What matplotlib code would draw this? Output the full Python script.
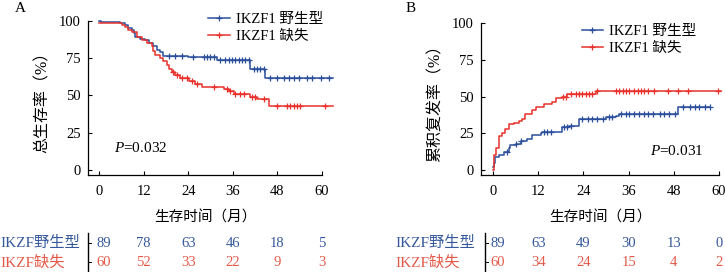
import numpy as np
import matplotlib
matplotlib.use("Agg")
import matplotlib.pyplot as plt


FONT = ['Liberation Serif', 'Noto Sans CJK SC']
plt.rcParams['font.family'] = FONT
plt.rcParams['mathtext.fontset'] = 'custom'
plt.rcParams['mathtext.it'] = 'Liberation Serif:italic'

BLUE = '#2b4f9b'
RED = '#e8312b'
BLUE_TXT = '#35589c'
RED_TXT = '#e35a48'

# ************ #
# *** DATA *** #
# ************ #

groups = ['IKZF1 野生型', 'IKZF1 缺失']
table_groups = ['IKZF野生型', 'IKZF缺失']
xticks = [0, 12, 24, 36, 48, 60]
yticks = [0, 25, 50, 75, 100]

# A: overall survival (step times in months, survival %)
osWtTimes = [0, 0.5, 5.7, 7.0, 7.9, 8.8, 9.3, 9.7, 11.0, 12.4, 13.3, 14.6, 15.5, 16.4, 17.3,
             24.0, 31.7, 40.7, 44.7]
osWtVals = [100, 99.3, 98.8, 97, 95.5, 94, 92, 89.5, 88, 87, 85, 83, 80.5, 79, 76.6,
            75.7, 74, 67.6, 61.8]
osWtEnd = 63
osWtCens = [18.7, 20.5, 22.3, 25.4, 28.1, 29.0, 29.9, 30.8, 32.6, 34.0, 34.9, 35.8, 36.7,
            37.6, 38.5, 39.4, 40.3, 41.6, 42.5, 43.4, 44.3, 46.1, 47.9, 49.7, 51.0, 52.4,
            53.7, 56.0, 57.3, 59.6, 61.8]

osDelTimes = [0, 6.1, 7.0, 7.9, 8.8, 10.2, 11.5, 12.8, 14.2, 14.6, 15.1, 16.4, 17.3, 18.2,
              18.7, 19.6, 20.5, 21.8, 24.1, 25.9, 27.7, 33.5, 34.9, 36.2, 40.7, 42.5, 45.6]
osDelVals = [98.5, 97.5, 96, 94, 92.5, 89, 87, 85, 83, 79.6, 77, 75, 73, 70.3,
             68, 66, 63.6, 62, 60, 58, 56, 54.6, 53, 51.2, 49, 47.9, 42.7]
osDelEnd = 63
osDelCens = [20.0, 20.9, 22.3, 23.6, 25.0, 26.3, 30.8, 34.4, 35.3, 36.6, 38.0, 38.9, 41.1,
             42.0, 44.3, 47.9, 50.6, 51.5, 52.4, 53.3, 54.2, 60.9]

# B: cumulative incidence of relapse (%)
ciWtTimes = [0, 0.2, 0.6, 1.5, 2.8, 4.2, 4.6, 6.0, 7.3, 9.0, 10.4, 12.6, 13.0, 18.2, 20.2,
             22.8, 30.0, 32.6, 33.5, 49.0]
ciWtVals = [2, 5, 8.6, 10, 12, 15, 17, 18, 20, 21, 24, 25, 26, 29.5, 30,
            34.5, 36, 37, 38, 43]
ciWtEnd = 57.5
ciWtCens = [3.7, 6.2, 7.5, 13.5, 14.4, 15.3, 18.8, 19.7, 20.6, 23.7, 25.1, 26.4, 27.7,
            29.1, 30.8, 31.7, 34.0, 35.3, 36.2, 37.5, 38.8, 40.2, 41.1, 42.4, 44.2, 45.5,
            46.8, 48.2, 50.4, 52.2, 53.5, 54.8, 56.2, 57.5]

ciDelTimes = [0, 0.2, 0.9, 1.5, 2.4, 3.3, 4.2, 5.5, 6.8, 7.7, 8.6, 10.4, 11.3, 13.5, 15.7,
              16.6, 18.4, 19.7, 27.3]
ciDelVals = [0, 10, 15, 23, 25, 28, 31, 32, 33.5, 35, 38, 41, 43, 44.6, 46,
             49, 50, 51.5, 53.5]
ciDelEnd = 60.5
ciDelCens = [18.6, 19.5, 20.6, 22.0, 22.8, 23.7, 24.6, 25.5, 26.4, 27.7, 32.6, 33.5, 34.4,
             35.3, 36.2, 37.5, 38.4, 39.3, 40.2, 41.1, 42.8, 46.4, 49.1, 51.7, 59.7]

# numbers at risk
riskA_wt = [89, 78, 63, 46, 18, 5]
riskA_del = [60, 52, 33, 22, 9, 3]
riskB_wt = [89, 63, 49, 30, 13, 0]
riskB_del = [60, 34, 24, 15, 4, 2]


# ***************** #
# *** FUNCTIONS *** #
# ***************** #

def stepAt(times, vals, t):
    idx = np.searchsorted(times, t, side='right') - 1
    return np.array(vals)[idx]


def drawCurve(ax, times, vals, end, cens, color, label):
    x = list(times) + [end]
    y = list(vals) + [vals[-1]]
    ax.step(x, y, where='post', color=color, lw=1.1, clip_on=False)
    ax.plot(cens, stepAt(times, vals, cens), ls='none', marker='+', ms=4.5, mew=0.9,
            color=color, clip_on=False)
    ax.plot([], [], color=color, marker='+', ms=4.5, mew=0.9, lw=1.1, label=label)


def styleAxis(ax, xlim, ylabel):
    ax.set_xlim(*xlim)
    ax.set_ylim(-3.4, 100)
    ax.set_xticks(xticks)
    ax.set_yticks(yticks)
    ax.tick_params(direction='in', length=3, width=0.8, labelsize=10.5)
    ax.tick_params(axis='x', pad=7)
    ax.tick_params(axis='y', pad=5)
    for s in ['top', 'right']:
        ax.spines[s].set_visible(False)
    for s in ['left', 'bottom']:
        ax.spines[s].set_linewidth(0.9)
    ax.set_ylabel(ylabel, fontsize=11.5, labelpad=6)
    ax.set_xlabel('生存时间（月）', fontsize=10.5, labelpad=9)


def riskTable(fig, ax, wt, dele, barX):
    trans = matplotlib.transforms.blended_transform_factory(ax.transData, fig.transFigure)
    for vals, yy, c in [(wt, 0.105, BLUE_TXT), (dele, 0.035, RED_TXT)]:
        for t, v in zip(xticks, vals):
            xt = t + 1.3 if t == 0 else t
            fig.text(xt, yy, str(v), transform=trans, ha='center', va='center',
                     fontsize=10.5, color=c)
        fig.add_artist(plt.Line2D([barX / 725, (barX + 3) / 725], [yy, yy], color='k',
                                  lw=0.7, transform=fig.transFigure))
    fig.add_artist(plt.Line2D([barX / 725, barX / 725], [0.005, 0.145], color='k', lw=1.0,
                              transform=fig.transFigure))


# ************ #
# *** MAIN *** #
# ************ #

fig = plt.figure(figsize=(7.25, 2.72), dpi=100)
axA = fig.add_axes([88 / 725, 1 - 175 / 272, (322 - 88) / 725, (175 - 21) / 272])
axB = fig.add_axes([481 / 725, 1 - 175 / 272, (719 - 481) / 725, (175 - 23) / 272])

drawCurve(axA, osWtTimes, osWtVals, osWtEnd, osWtCens, BLUE, groups[0])
drawCurve(axA, osDelTimes, osDelVals, osDelEnd, osDelCens, RED, groups[1])
styleAxis(axA, (-3, 60), '总生存率（%）')
axA.text(4, 14.5, '$P$=0.032', fontsize=11, va='center')
axA.legend(loc='upper right', bbox_to_anchor=(1.03, 1.09), frameon=False, fontsize=10.5,
           handlelength=1.5, handletextpad=0.4, labelspacing=0.25, borderaxespad=0)

drawCurve(axB, ciWtTimes, ciWtVals, ciWtEnd, ciWtCens, BLUE, groups[0])
drawCurve(axB, ciDelTimes, ciDelVals, ciDelEnd, ciDelCens, RED, groups[1])
styleAxis(axB, (-3.2, 60), '累积复发率（%）')
axB.text(41.7, 12.8, '$P$=0.031', fontsize=11, va='center')
axB.legend(loc='upper right', bbox_to_anchor=(0.93, 1.025), frameon=False, fontsize=10.5,
           handlelength=1.5, handletextpad=0.4, labelspacing=0.25, borderaxespad=0)

fig.text(20 / 725, 1 - 9 / 272, 'A', fontsize=11, ha='center', va='center')
fig.text(411 / 725, 1 - 8 / 272, 'B', fontsize=11, ha='center', va='center')

for ax, wt, dele, barX, labX in [(axA, riskA_wt, riskA_del, 88, 0), (axB, riskB_wt, riskB_del, 485, 395)]:
    riskTable(fig, ax, wt, dele, barX)
    fig.text(labX / 725, 0.105, table_groups[0], fontsize=11, color=BLUE_TXT, va='center')
    fig.text(labX / 725, 0.035, table_groups[1], fontsize=11, color=RED_TXT, va='center')

fig.savefig('out.png', dpi=100)
